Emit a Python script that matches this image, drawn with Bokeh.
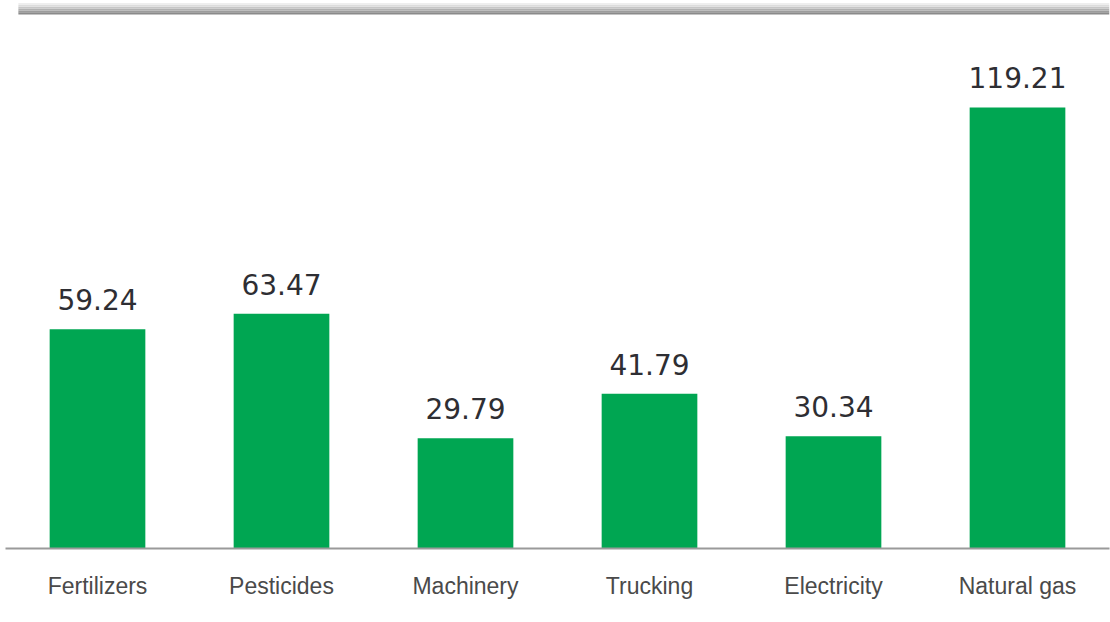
from bokeh.plotting import figure
from bokeh.models import ColumnDataSource, FactorRange, Range1d, BoxAnnotation
from bokeh.core.properties import value
from bokeh.embed import file_html
from bokeh.resources import INLINE

categories = ["Fertilizers", "Pesticides", "Machinery", "Trucking", "Electricity", "Natural gas"]
values = [59.24, 63.47, 29.79, 41.79, 30.34, 119.21]
labels = ["59.24", "63.47", "29.79", "41.79", "30.34", "119.21"]

src = ColumnDataSource(dict(cat=categories, val=values, lab=labels))

p = figure(width=1110, height=622, x_range=FactorRange(*categories, range_padding=0),
           y_range=Range1d(0, 148.1), output_backend="svg", toolbar_location=None,
           min_border_left=5, min_border_right=1, min_border_top=0, min_border_bottom=74)
p.background_fill_color = "white"
p.border_fill_color = "white"
p.outline_line_color = None
p.xgrid.grid_line_color = None
p.ygrid.grid_line_color = None
p.yaxis.visible = False

# top shadow bands
shades = [(144.3, 144.9, "#8a8a8a"), (144.9, 145.4, "#9c9c9c"),
          (145.4, 145.9, "#b0b0b0"), (145.9, 146.4, "#c6c6c6"),
          (146.4, 146.9, "#dcdcdc"), (146.9, 147.4, "#eeeeee")]
for b, t, c in shades:
    p.add_layout(BoxAnnotation(bottom=b, top=t, left=0.07, fill_color=c, fill_alpha=1.0, line_color=None))

p.vbar(x="cat", top="val", width=0.52, source=src, fill_color="#00a652", line_color=None)
p.text(x="cat", y="val", text="lab", source=src, y_offset=-19, text_align="center",
       text_baseline="bottom", text_font=value("DejaVu Sans"), text_font_size="28px",
       text_color="#2e2e33")

ax = p.xaxis[0]
ax.axis_line_color = "#9a9a9a"
ax.axis_line_width = 2
ax.major_tick_line_color = None
ax.minor_tick_line_color = None
ax.major_label_standoff = 18
ax.major_label_text_font = "Liberation Sans"
ax.major_label_text_font_size = "23px"
ax.major_label_text_color = "#4a4a4a"

open("out.html", "w").write(file_html(p, INLINE))
